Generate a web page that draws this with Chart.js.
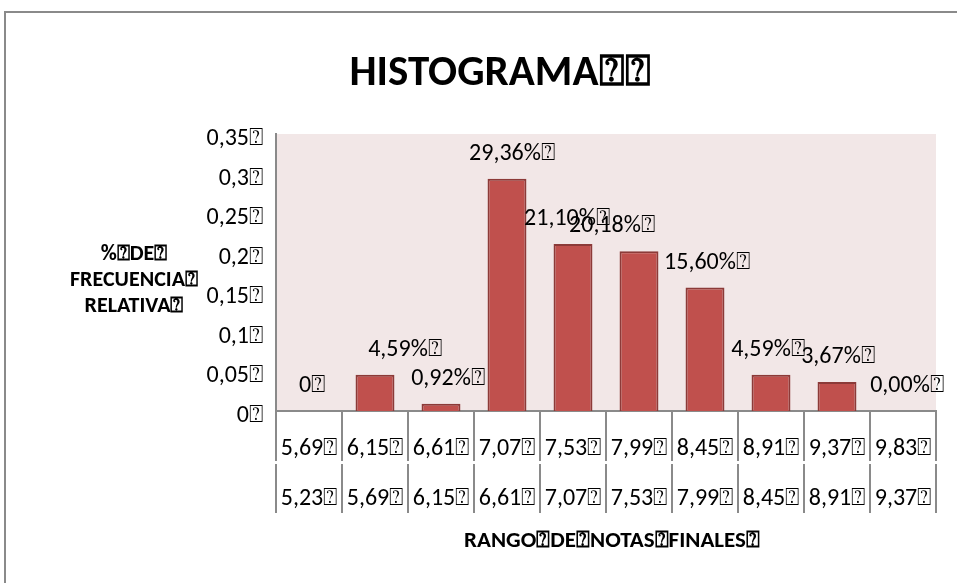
<!DOCTYPE html>
<html><head><meta charset="utf-8">
<script src="https://cdn.jsdelivr.net/npm/chart.js@4.4.0/dist/chart.umd.min.js"></script>
<style>
html,body{margin:0;padding:0;background:#fff;overflow:hidden}
#wrap{position:relative;width:957px;height:583px}
#frame{position:absolute;left:4px;top:11px;width:1100px;height:1100px;border:2px solid #8a8a8a;box-sizing:border-box}
canvas{position:absolute;left:0;top:0}
</style></head><body>
<div id="wrap"><div id="frame"></div><canvas id="c" width="957" height="583"></canvas></div>
<script>
const Q = '\u2370';
const upperBounds = ['5,69','6,15','6,61','7,07','7,53','7,99','8,45','8,91','9,37','9,83'];
const lowerBounds = ['5,23','5,69','6,15','6,61','7,07','7,53','7,99','8,45','8,91','9,37'];
const relFreq = [0, 0.0459, 0.0092, 0.2936, 0.2110, 0.2018, 0.1560, 0.0459, 0.0367, 0];
const valueLabels = ['0','4,59%','0,92%','29,36%','21,10%','20,18%','15,60%','4,59%','3,67%','0,00%'];
const yTickLabels = ['0','0,05','0,1','0,15','0,2','0,25','0,3','0,35'];
const titleText = 'HISTOGRAMA' + Q + Q;
const yTitleLines = ['%' + Q + 'DE' + Q, 'FRECUENCIA' + Q, 'RELATIVA' + Q];
const xTitleText = 'RANGO' + Q + 'DE' + Q + 'NOTAS' + Q + 'FINALES' + Q;
const labelShiftX = [3, 30, 7, 5, -6, -27, 2, -3, 1, 4];

const FONT = "Carlito, Lato, sans-serif";
const GRAY = '#8a8a8a';

const decor = {
  id: 'decor',
  beforeDraw(chart) {
    const {ctx, chartArea: a} = chart;
    ctx.save();
    ctx.fillStyle = '#F2E7E7';
    ctx.fillRect(a.left, a.top, a.right - a.left, a.bottom - a.top);
    ctx.restore();
  },
  afterDraw(chart) {
    const {ctx, chartArea: a} = chart;
    const xs = chart.scales.x;
    const half = (xs.getPixelForValue(1) - xs.getPixelForValue(0)) / 2;
    ctx.save();
    ctx.strokeStyle = GRAY; ctx.lineWidth = 2;
    for (let i = 0; i <= upperBounds.length; i++) {
      const x = Math.round(xs.getPixelForValue(Math.min(i, upperBounds.length - 1)) + (i === upperBounds.length ? half : -half));
      ctx.beginPath();
      ctx.moveTo(x, a.bottom); ctx.lineTo(x, a.bottom + 50);
      ctx.moveTo(x, a.bottom + 53); ctx.lineTo(x, a.bottom + 102);
      ctx.stroke();
    }
    ctx.fillStyle = '#000';
    ctx.font = '24px ' + FONT;
    ctx.textAlign = 'center'; ctx.textBaseline = 'middle';
    upperBounds.forEach((t, i) => {
      const x = xs.getPixelForValue(i);
      ctx.fillText(t + Q, x, a.bottom + 38);
      ctx.fillText(lowerBounds[i] + Q, x, a.bottom + 88);
    });
    const meta = chart.getDatasetMeta(0);
    meta.data.forEach((el, i) => {
      ctx.fillText(valueLabels[i] + Q, el.x + labelShiftX[i], el.y - 25);
    });
    ctx.font = 'bold 43px ' + FONT;
    ctx.fillText(titleText, 500, 74);
    ctx.font = 'bold 22px ' + FONT;
    yTitleLines.forEach((t, i) => ctx.fillText(t, 134, 254 + i * 26));
    ctx.font = 'bold 23px ' + FONT;
    ctx.fillText(xTitleText, (a.left + a.right) / 2 + 6, 541);
    ctx.restore();
  }
};

new Chart(document.getElementById('c'), {
  type: 'bar',
  data: {
    labels: upperBounds.map((u, i) => [u, lowerBounds[i]]),
    datasets: [{
      data: relFreq,
      backgroundColor: '#C0504D',
      borderColor: '#8C3A38',
      borderWidth: 2,
      borderSkipped: 'bottom',
      barPercentage: 0.59,
      categoryPercentage: 1
    }]
  },
  options: {
    responsive: false,
    animation: false,
    devicePixelRatio: 1,
    layout: {padding: {top: 134, right: 21, left: 0, bottom: 0}},
    plugins: {legend: {display: false}, tooltip: {enabled: false}, title: {display: false}},
    scales: {
      x: {
        ticks: {display: false},
        grid: {display: false},
        border: {display: true, color: GRAY, width: 2},
        afterFit(s) { s.height = 172; }
      },
      y: {
        min: 0, max: 0.35,
        ticks: {
          stepSize: 0.05,
          color: '#000',
          font: {family: FONT, size: 24},
          padding: 5,
          labelOffset: 5,
          callback: (v, i) => yTickLabels[i] + Q
        },
        grid: {display: false},
        border: {display: true, color: GRAY, width: 2},
        afterFit(s) { s.width = 276; }
      }
    }
  },
  plugins: [decor]
});
</script>
</body></html>
